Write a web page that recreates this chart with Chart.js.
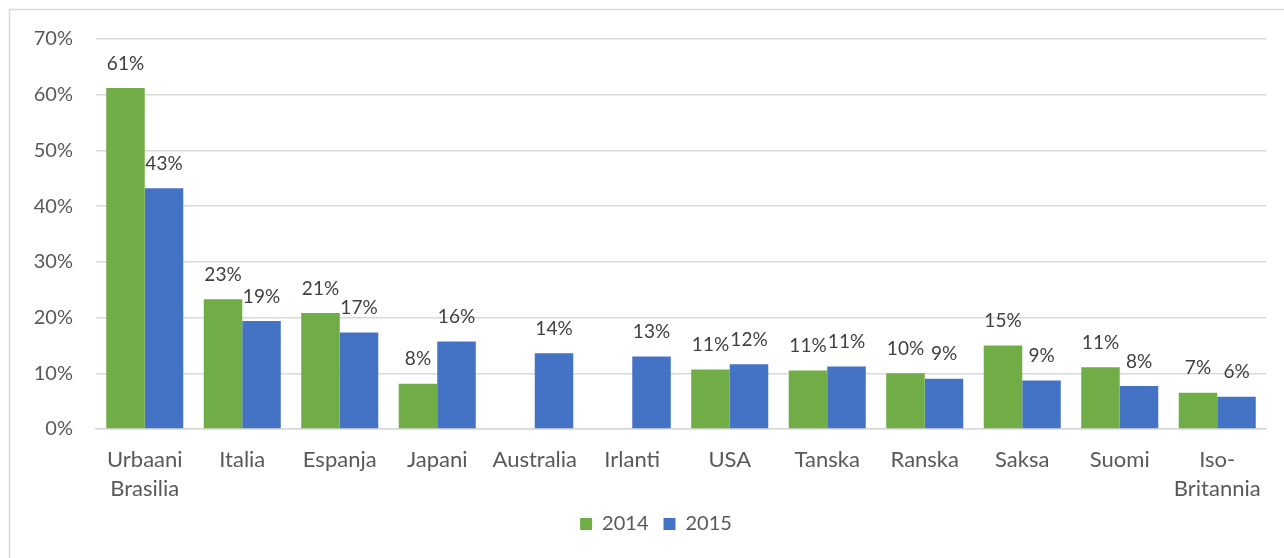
<!DOCTYPE html>
<html>
<head>
<meta charset="utf-8">
<script src="https://cdn.jsdelivr.net/npm/chart.js@4"></script>
<style>
  html, body { margin: 0; padding: 0; background: #fff; }
  #wrap { position: relative; width: 1284px; height: 558px; }
</style>
</head>
<body>
<div id="wrap"><canvas id="chart" width="1284" height="558"></canvas></div>
<script>
// categories and values
const categories = [
  ["Urbaani", "Brasilia"], "Italia", "Espanja", "Japani", "Australia", "Irlanti",
  "USA", "Tanska", "Ranska", "Saksa", "Suomi", ["Iso-", "Britannia"]
];
const values2014 = [61.2, 23.3, 20.8, 8.1, null, null, 10.7, 10.5, 10.0, 15.0, 11.1, 6.5];
const values2015 = [43.2, 19.4, 17.3, 15.7, 13.6, 13.0, 11.6, 11.2, 9.0, 8.7, 7.7, 5.8];
const yTicks = [0, 10, 20, 30, 40, 50, 60, 70];

const FONT = "Lato, 'Open Sans', sans-serif";

// frame around the chart (only top and left edges show in the picture)
const framePlugin = {
  id: "frame",
  beforeDraw(chart) {
    const ctx = chart.ctx;
    ctx.save();
    ctx.strokeStyle = "#d9d9d9";
    ctx.lineWidth = 1.5;
    ctx.strokeRect(9.5, 9.5, chart.width + 20, chart.height + 20);
    ctx.restore();
    // legend sits a bit right of the centre in the original
    const lg = chart.legend;
    if (lg && !lg._shifted) {
      lg.left += 23;
      lg.right += 23;
      lg._shifted = true;
    }
  }
};

// value labels above each bar
const valueLabels = {
  id: "valueLabels",
  afterDatasetsDraw(chart) {
    const ctx = chart.ctx;
    ctx.save();
    ctx.font = "19px " + FONT;
    ctx.fillStyle = "#404040";
    ctx.textAlign = "center";
    ctx.textBaseline = "bottom";
    chart.data.datasets.forEach((ds, i) => {
      chart.getDatasetMeta(i).data.forEach((bar, j) => {
        const v = ds.data[j];
        if (v === null || v === undefined) return;
        ctx.fillText(Math.round(v) + "%", bar.x, bar.y - 15);
      });
    });
    ctx.restore();
  }
};

new Chart(document.getElementById("chart"), {
  type: "bar",
  data: {
    labels: categories,
    datasets: [
      { label: "2014", data: values2014, backgroundColor: "#70AD47" },
      { label: "2015", data: values2015, backgroundColor: "#4472C4" }
    ]
  },
  options: {
    responsive: false,
    animation: false,
    events: [],
    layout: { padding: { top: 39, right: 18, bottom: 14, left: 0 } },
    datasets: {
      bar: { categoryPercentage: 0.79, barPercentage: 1.0 }
    },
    scales: {
      y: {
        min: 0,
        max: 70,
        afterBuildTicks(scale) {
          scale.ticks = yTicks.map(v => ({ value: v }));
        },
        afterFit(scale) { scale.width = 96; },
        border: { display: false },
        grid: { color: "#d9d9d9", lineWidth: 1.5, drawTicks: false },
        ticks: {
          padding: 23,
          color: "#595959",
          font: { family: FONT, size: 20 },
          callback: v => v + "%"
        }
      },
      x: {
        afterFit(scale) { scale.height = 70; },
        border: { display: true, color: "#d9d9d9", width: 1.5 },
        grid: { display: false },
        ticks: {
          padding: 8,
          color: "#595959",
          maxRotation: 0,
          autoSkip: false,
          font: { family: FONT, size: 22, lineHeight: 1.32 }
        }
      }
    },
    plugins: {
      legend: {
        position: "bottom",
        labels: {
          boxWidth: 12,
          boxHeight: 12,
          padding: 15,
          color: "#595959",
          font: { family: FONT, size: 20 }
        }
      },
      tooltip: { enabled: false }
    }
  },
  plugins: [framePlugin, valueLabels]
});
</script>
</body>
</html>
